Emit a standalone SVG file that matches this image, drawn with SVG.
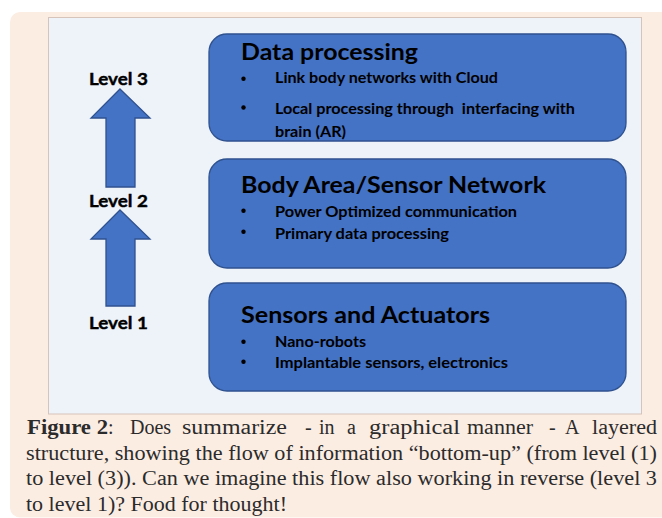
<svg xmlns="http://www.w3.org/2000/svg" width="662" height="518" viewBox="0 0 662 518">
  <style>
    .box { fill: #4472C4; stroke: #2F528F; stroke-width: 1.3; }
    .arrow { fill: #4472C4; stroke: #2F528F; stroke-width: 1.3; }
    .title { font-family: Lato, "Liberation Sans", sans-serif; font-weight: bold; font-size: 23px; fill: #000; }
    .item { font-family: Lato, "Liberation Sans", sans-serif; font-weight: bold; font-size: 15.5px; fill: #000; }
    .level { font-family: Lato, "Liberation Sans", sans-serif; font-weight: bold; font-size: 17.5px; fill: #000; stroke: #000; stroke-width: 0.4; }
    .dot { fill: #000; }
    .cap { font-family: "Liberation Serif", serif; font-size: 20px; fill: #2b2b2b; }
    .capb { font-weight: bold; }
  </style>
  <rect x="10" y="12" width="670" height="505.5" rx="10" fill="#FCEDE3"/>
  <rect x="48.5" y="17.5" width="593" height="396.5" fill="#EEF2F9" stroke="#D6C4BA" stroke-width="1"/>

  <g id="connectors">
    <polygon class="arrow" points="120,89 150,118 135,118 135,187 106,187 106,118 91,118"/>
    <polygon class="arrow" points="120,210 150,239 135,239 135,306 106,306 106,239 91,239"/>
  </g>

  <g id="level3"><text class="level" x="89" y="85" textLength="59" lengthAdjust="spacingAndGlyphs">Level 3</text></g>
  <g id="level2"><text class="level" x="89" y="206.5" textLength="59" lengthAdjust="spacingAndGlyphs">Level 2</text></g>
  <g id="level1"><text class="level" x="89" y="329" textLength="59" lengthAdjust="spacingAndGlyphs">Level 1</text></g>

  <g id="data-processing">
    <rect class="box" x="209" y="34" width="417" height="107" rx="18"/>
    <text class="title" x="241" y="60" textLength="177" lengthAdjust="spacingAndGlyphs">Data processing</text>
    <circle class="dot" cx="243.5" cy="78.7" r="2.2"/>
    <text class="item" x="275" y="83" textLength="223" lengthAdjust="spacingAndGlyphs">Link body networks with Cloud</text>
    <circle class="dot" cx="243.5" cy="107.5" r="2.2"/>
    <text class="item" x="275" y="113.5" textLength="300" lengthAdjust="spacingAndGlyphs" xml:space="preserve">Local processing through  interfacing with</text>
    <text class="item" x="275" y="137" textLength="71" lengthAdjust="spacingAndGlyphs">brain (AR)</text>
  </g>

  <g id="body-area-network">
    <rect class="box" x="209" y="159" width="417" height="109" rx="18"/>
    <text class="title" x="241" y="193" textLength="305" lengthAdjust="spacingAndGlyphs">Body Area/Sensor Network</text>
    <circle class="dot" cx="243.5" cy="210.7" r="2.2"/>
    <text class="item" x="275" y="216.5" textLength="242" lengthAdjust="spacingAndGlyphs">Power Optimized communication</text>
    <circle class="dot" cx="243.5" cy="231.7" r="2.2"/>
    <text class="item" x="275" y="238.5" textLength="174" lengthAdjust="spacingAndGlyphs">Primary data processing</text>
  </g>

  <g id="sensors-actuators">
    <rect class="box" x="209" y="283" width="417" height="108" rx="18"/>
    <text class="title" x="241" y="322.5" textLength="249" lengthAdjust="spacingAndGlyphs">Sensors and Actuators</text>
    <circle class="dot" cx="243.5" cy="341.7" r="2.2"/>
    <text class="item" x="275" y="346.5" textLength="91" lengthAdjust="spacingAndGlyphs">Nano-robots</text>
    <circle class="dot" cx="243.5" cy="361.7" r="2.2"/>
    <text class="item" x="275" y="368" textLength="233" lengthAdjust="spacingAndGlyphs">Implantable sensors, electronics</text>
  </g>

  <g id="caption">
    <text class="cap" y="434">
      <tspan class="capb" x="27" textLength="81" lengthAdjust="spacingAndGlyphs">Figure 2</tspan><tspan>:</tspan>
      <tspan x="130">Does</tspan>
      <tspan x="182" textLength="105" lengthAdjust="spacingAndGlyphs">summarize</tspan>
      <tspan x="305">-</tspan>
      <tspan x="319">in</tspan>
      <tspan x="347">a</tspan>
      <tspan x="369" textLength="91" lengthAdjust="spacingAndGlyphs">graphical</tspan>
      <tspan x="467" textLength="66" lengthAdjust="spacingAndGlyphs">manner</tspan>
      <tspan x="549">-</tspan>
      <tspan x="565">A</tspan>
      <tspan x="592" textLength="65" lengthAdjust="spacingAndGlyphs">layered</tspan>
    </text>
    <text class="cap" x="26" y="459.5" textLength="631" lengthAdjust="spacingAndGlyphs">structure, showing the flow of information “bottom-up” (from level (1)</text>
    <text class="cap" x="26" y="485" textLength="631" lengthAdjust="spacingAndGlyphs">to level (3)). Can we imagine this flow also working in reverse (level 3</text>
    <text class="cap" x="26" y="510.5" textLength="261" lengthAdjust="spacingAndGlyphs">to level 1)? Food for thought!</text>
  </g>
</svg>
